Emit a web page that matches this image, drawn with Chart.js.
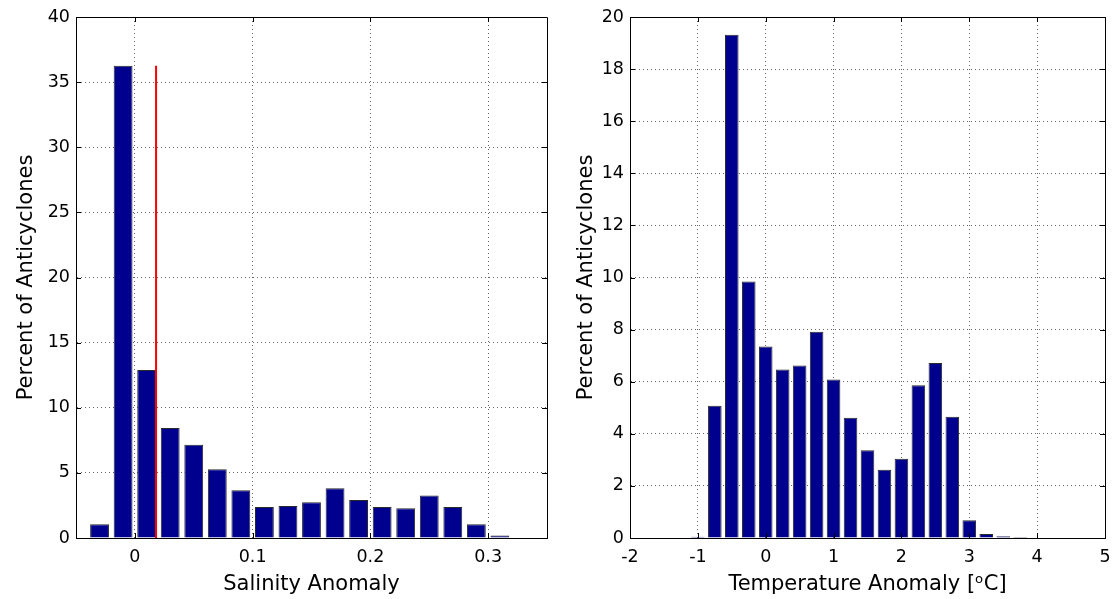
<!DOCTYPE html>
<html>
<head>
<meta charset="utf-8">
<script src="https://cdn.jsdelivr.net/npm/chart.js@4/dist/chart.umd.min.js"></script>
<style>
    html, body { margin: 0; padding: 0; background: #fff; }
    #wrap { position: relative; width: 1115px; height: 599px; }
    canvas { position: absolute; top: 0; }
    #salinidad { left: 0; }
    #temperatura { left: 560px; }
</style>
</head>
<body>
<div id="wrap">
    <canvas id="salinidad" width="560" height="599"></canvas>
    <canvas id="temperatura" width="555" height="599"></canvas>
</div>
<script>
// Histograma de anomalia de salinidad (centros de clase y porcentajes)
const salinityBins = [-0.03, -0.01, 0.01, 0.03, 0.05, 0.07, 0.09, 0.11, 0.13,
    0.15, 0.17, 0.19, 0.21, 0.23, 0.25, 0.27, 0.29, 0.31];
const salinityPct = [1.05, 36.25, 12.9, 8.44, 7.15, 5.28, 3.67, 2.38, 2.46,
    2.74, 3.82, 2.92, 2.38, 2.28, 3.26, 2.38, 1.05, 0.2];
const salinityMean = 0.018;
const salinityXTicks = [0, 0.1, 0.2, 0.3];
const salinityYTicks = [0, 5, 10, 15, 20, 25, 30, 35, 40];

// Histograma de anomalia de temperatura
const tempBins = [-1, -0.75, -0.5, -0.25, 0, 0.25, 0.5, 0.75, 1, 1.25,
    1.5, 1.75, 2, 2.25, 2.5, 2.75, 3, 3.25, 3.5, 3.75];
const tempPct = [0.05, 5.08, 19.32, 9.85, 7.35, 6.47, 6.62, 7.92, 6.08, 4.62,
    3.37, 2.62, 3.04, 5.86, 6.72, 4.65, 0.68, 0.15, 0.07, 0.04];
const tempXTicks = [-2, -1, 0, 1, 2, 3, 4, 5];
const tempYTicks = [0, 2, 4, 6, 8, 10, 12, 14, 16, 18, 20];

const COLORES = {
    BARRA: '#00008f',
    BORDE_BARRA: '#2a2a2a',
    LINEA: '#ff0000',
    REJILLA: 'rgba(0, 0, 0, 0.6)',
    EJE: '#000'
};

Chart.defaults.font.family = 'DejaVu Sans';
Chart.defaults.color = '#000';

// Marco completo y marcas de escala hacia dentro, estilo matlab
const marcoPlugin = {
    id: 'marco',
    afterDatasetsDraw(chart) {
        const { ctx, chartArea: a, scales } = chart;
        const len = 5;
        ctx.save();
        ctx.strokeStyle = COLORES.EJE;
        ctx.lineWidth = 1;
        ctx.beginPath();
        scales.x.ticks.forEach(t => {
            const px = Math.round(scales.x.getPixelForValue(t.value)) + 0.5;
            ctx.moveTo(px, a.bottom); ctx.lineTo(px, a.bottom - len);
            ctx.moveTo(px, a.top); ctx.lineTo(px, a.top + len);
        });
        scales.y.ticks.forEach(t => {
            const py = Math.round(scales.y.getPixelForValue(t.value)) + 0.5;
            ctx.moveTo(a.left, py); ctx.lineTo(a.left + len, py);
            ctx.moveTo(a.right, py); ctx.lineTo(a.right - len, py);
        });
        ctx.stroke();
        ctx.beginPath();
        ctx.rect(Math.round(a.left) + 0.5, Math.round(a.top) + 0.5,
            Math.round(a.right - a.left), Math.round(a.bottom - a.top));
        ctx.stroke();
        ctx.restore();
    }
};

function fijarTicks(valores) {
    return scale => { scale.ticks = valores.map(v => ({ value: v })); };
}

function ejes(cfg) {
    return {
        x: {
            type: 'linear',
            offset: false,
            min: cfg.xMin,
            max: cfg.xMax,
            afterBuildTicks: fijarTicks(cfg.xTicks),
            afterFit: s => {
                s.height = 61;
                // las etiquetas de los extremos no deben encoger el area
                s.paddingLeft = 0;
                s.paddingRight = 0;
            },
            grid: { color: COLORES.REJILLA, drawTicks: false, offset: false },
            border: { display: true, color: COLORES.EJE, dash: [1, 3] },
            ticks: { padding: 9, font: { size: 17.5 }, maxRotation: 0 },
            title: {
                display: true,
                text: cfg.xTitulo,
                font: { size: 21 },
                padding: { top: 4, bottom: 2 }
            }
        },
        y: {
            min: cfg.yMin,
            max: cfg.yMax,
            afterBuildTicks: fijarTicks(cfg.yTicks),
            afterFit: s => { s.width = cfg.yAncho; },
            grid: { color: COLORES.REJILLA, drawTicks: false },
            border: { display: true, color: COLORES.EJE, dash: [1, 3] },
            ticks: { padding: 6, font: { size: 17.5 } },
            title: {
                display: true,
                text: 'Percent of Anticyclones',
                font: { size: 21 },
                padding: { top: 4, bottom: 4 }
            }
        }
    };
}

function barras(bins, valores) {
    return {
        type: 'bar',
        order: 1,
        data: bins.map((b, i) => ({ x: b, y: valores[i] })),
        backgroundColor: COLORES.BARRA,
        borderColor: COLORES.BORDE_BARRA,
        borderWidth: 1,
        barPercentage: 0.8,
        categoryPercentage: 1.0
    };
}

const opcionesBase = {
    responsive: false,
    animation: false,
    devicePixelRatio: 1,
    plugins: { legend: { display: false }, tooltip: { enabled: false } }
};

new Chart(document.getElementById('salinidad'), {
    data: {
        datasets: [
            {
                type: 'line',
                order: 0,
                data: [
                    { x: salinityMean, y: 0 },
                    { x: salinityMean, y: Math.max(...salinityPct) }
                ],
                borderColor: COLORES.LINEA,
                borderWidth: 2,
                pointRadius: 0,
                fill: false
            },
            barras(salinityBins, salinityPct)
        ]
    },
    options: {
        ...opcionesBase,
        layout: { autoPadding: false, padding: { left: 10, right: 13, top: 17, bottom: 0 } },
        scales: ejes({
            xMin: -0.05, xMax: 0.35, xTicks: salinityXTicks,
            yMin: 0, yMax: 40, yTicks: salinityYTicks,
            yAncho: 66, xTitulo: 'Salinity Anomaly'
        })
    },
    plugins: [marcoPlugin]
});

new Chart(document.getElementById('temperatura'), {
    data: {
        datasets: [barras(tempBins, tempPct)]
    },
    options: {
        ...opcionesBase,
        layout: { autoPadding: false, padding: { left: 10, right: 10, top: 17, bottom: 0 } },
        scales: ejes({
            xMin: -2, xMax: 5, xTicks: tempXTicks,
            yMin: 0, yMax: 20, yTicks: tempYTicks,
            yAncho: 60, xTitulo: 'Temperature Anomaly [\u1D52C]'
        })
    },
    plugins: [marcoPlugin]
});
</script>
</body>
</html>
